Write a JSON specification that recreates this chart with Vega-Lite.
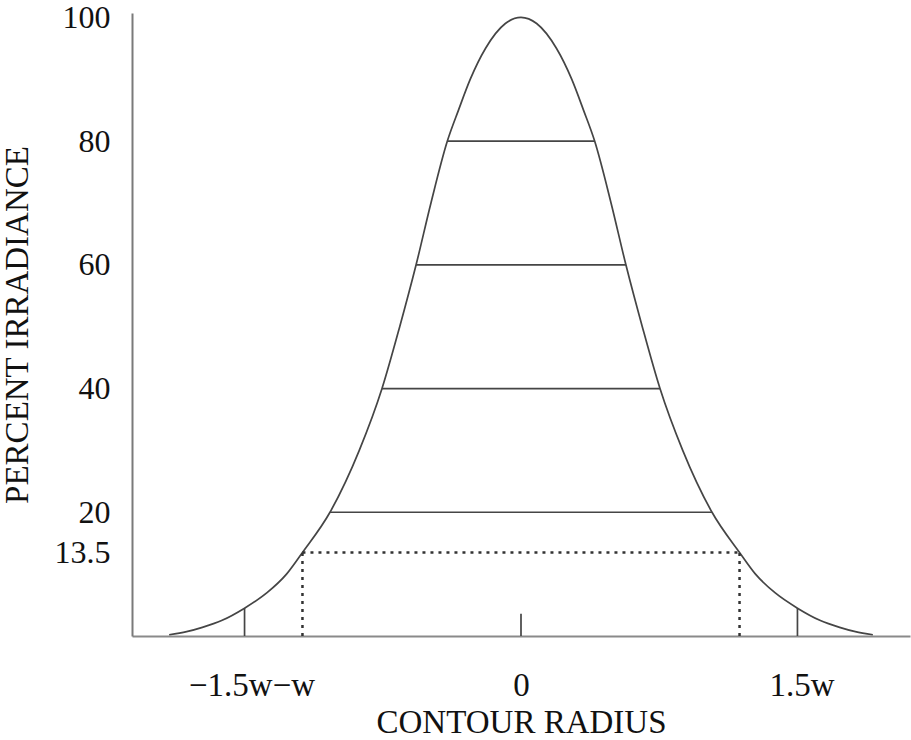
{
  "$schema": "https://vega.github.io/schema/vega-lite/v6.json",
  "autosize": {"type": "none"},
  "padding": {"left": 132, "top": 13, "right": 1, "bottom": 104},
  "width": 778,
  "height": 623,
  "background": "white",
  "config": {
    "view": {"stroke": null},
    "font": "Liberation Serif"
  },
  "layer": [
    {
      "data": {"values": [
        {"r": -1.61, "irr": 0.2},
        {"r": -1.53, "irr": 0.7},
        {"r": -1.458, "irr": 1.4},
        {"r": -1.37, "irr": 2.5},
        {"r": -1.265, "irr": 4.5},
        {"r": -1.162, "irr": 7.0},
        {"r": -1.073, "irr": 10.0},
        {"r": -1.0, "irr": 13.5},
        {"r": -0.874, "irr": 20.0},
        {"r": -0.74, "irr": 30.0},
        {"r": -0.636, "irr": 40.0},
        {"r": -0.555, "irr": 50.0},
        {"r": -0.48, "irr": 60.0},
        {"r": -0.412, "irr": 70.0},
        {"r": -0.337, "irr": 80.0},
        {"r": -0.286, "irr": 85.0},
        {"r": -0.232, "irr": 90.0},
        {"r": -0.162, "irr": 95.0},
        {"r": -0.0716, "irr": 99.0},
        {"r": 0.0, "irr": 100.0},
        {"r": 0.0716, "irr": 99.0},
        {"r": 0.162, "irr": 95.0},
        {"r": 0.232, "irr": 90.0},
        {"r": 0.286, "irr": 85.0},
        {"r": 0.337, "irr": 80.0},
        {"r": 0.412, "irr": 70.0},
        {"r": 0.48, "irr": 60.0},
        {"r": 0.555, "irr": 50.0},
        {"r": 0.636, "irr": 40.0},
        {"r": 0.74, "irr": 30.0},
        {"r": 0.874, "irr": 20.0},
        {"r": 1.0, "irr": 13.5},
        {"r": 1.073, "irr": 10.0},
        {"r": 1.162, "irr": 7.0},
        {"r": 1.265, "irr": 4.5},
        {"r": 1.37, "irr": 2.5},
        {"r": 1.458, "irr": 1.4},
        {"r": 1.53, "irr": 0.7},
        {"r": 1.61, "irr": 0.2}
      ]},
      "mark": {"type": "line", "interpolate": "monotone", "color": "#454545", "strokeWidth": 1.7},
      "encoding": {
        "x": {
          "field": "r", "type": "quantitative", "title": "CONTOUR RADIUS",
          "scale": {"domain": [-1.78, 1.78], "nice": false, "zero": false},
          "axis": {
            "values": [-1.233, 0, 1.284],
            "labelExpr": "datum.value < -1 ? '−1.5w−w' : (datum.value > 1 ? '1.5w' : '0')",
            "ticks": false, "grid": false,
            "domainColor": "#8a8a8a", "domainWidth": 2,
            "labelFont": "Liberation Serif", "labelFontSize": 33, "labelColor": "#111",
            "labelPadding": 33, "labelFlush": false, "labelOverlap": false,
            "titleFont": "Liberation Serif", "titleFontSize": 33, "titleFontWeight": "normal", "titleColor": "#111",
            "titlePadding": 4
          }
        },
        "y": {
          "field": "irr", "type": "quantitative", "title": "PERCENT IRRADIANCE",
          "scale": {"domain": [0, 100.7], "nice": false, "zero": true},
          "axis": {
            "values": [13.5, 20, 40, 60, 80, 100],
            "format": ".1~f",
            "ticks": false, "grid": false,
            "domainColor": "#7a7a7a", "domainWidth": 2,
            "labelFont": "Liberation Serif", "labelFontSize": 32, "labelColor": "#111",
            "labelPadding": 22, "labelOverlap": false, "labelFlush": false,
            "titleFont": "Liberation Serif", "titleFontSize": 33, "titleFontWeight": "normal", "titleColor": "#111",
            "titlePadding": 20
          }
        }
      }
    },
    {
      "data": {"values": [
        {"r1": -0.337, "r2": 0.337, "v1": 80, "v2": 80},
        {"r1": -0.48, "r2": 0.48, "v1": 60, "v2": 60},
        {"r1": -0.636, "r2": 0.636, "v1": 40, "v2": 40},
        {"r1": -0.874, "r2": 0.874, "v1": 20, "v2": 20},
        {"r1": -1.265, "r2": -1.265, "v1": 0, "v2": 4.5},
        {"r1": 1.265, "r2": 1.265, "v1": 0, "v2": 4.5},
        {"r1": 0.0, "r2": 0.0, "v1": 0, "v2": 3.6}
      ]},
      "mark": {"type": "rule", "color": "#454545", "strokeWidth": 1.7},
      "encoding": {
        "x": {"field": "r1", "type": "quantitative", "title": "CONTOUR RADIUS"},
        "x2": {"field": "r2"},
        "y": {"field": "v1", "type": "quantitative", "title": "PERCENT IRRADIANCE"},
        "y2": {"field": "v2"}
      }
    },
    {
      "data": {"values": [
        {"r1": -1.0, "r2": 1.0, "v1": 13.5, "v2": 13.5},
        {"r1": -1.0, "r2": -1.0, "v1": 0, "v2": 13.5},
        {"r1": 1.0, "r2": 1.0, "v1": 0, "v2": 13.5}
      ]},
      "mark": {"type": "rule", "color": "#333333", "strokeWidth": 2.5, "strokeDash": [3, 5]},
      "encoding": {
        "x": {"field": "r1", "type": "quantitative", "title": "CONTOUR RADIUS"},
        "x2": {"field": "r2"},
        "y": {"field": "v1", "type": "quantitative", "title": "PERCENT IRRADIANCE"},
        "y2": {"field": "v2"}
      }
    }
  ]
}
